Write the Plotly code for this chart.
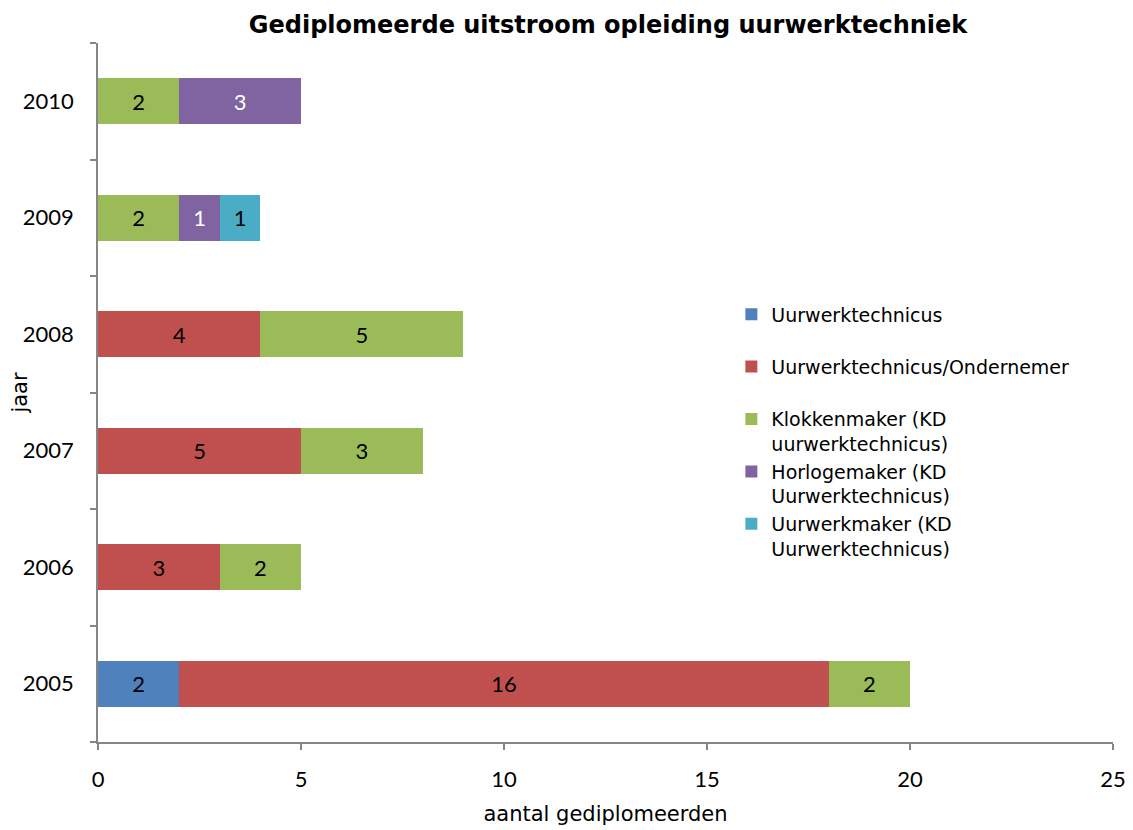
import plotly.graph_objects as go

years = ["2005", "2006", "2007", "2008", "2009", "2010"]
series_names = [
    "Uurwerktechnicus",
    "Uurwerktechnicus/Ondernemer",
    "Klokkenmaker (KD<br>uurwerktechnicus)",
    "Horlogemaker (KD<br>Uurwerktechnicus)",
    "Uurwerkmaker (KD<br>Uurwerktechnicus)",
]
uurwerktechnicus = [2, None, None, None, None, None]
ondernemer = [16, 3, 5, 4, None, None]
klokkenmaker = [2, 2, 3, 5, 2, 2]
horlogemaker = [None, None, None, None, 1, 3]
uurwerkmaker = [None, None, None, None, 1, None]
x_ticks = [0, 5, 10, 15, 20, 25]

values = [uurwerktechnicus, ondernemer, klokkenmaker, horlogemaker, uurwerkmaker]
colors = ["#4F81BD", "#C0504D", "#9BBB59", "#8064A2", "#4BACC6"]
text_colors = ["black", "black", "black", "white", "black"]
legend_names = [
    "Uurwerktechnicus<br> ",
    "Uurwerktechnicus/Ondernemer<br> ",
    series_names[2],
    series_names[3],
    series_names[4],
]

FONT = "Lato"
FONT2 = "DejaVu Sans"

fig = go.Figure()
for name, vals, col, tcol in zip(legend_names, values, colors, text_colors):
    fig.add_trace(go.Bar(
        y=years, x=vals, name=name, orientation="h",
        marker=dict(color=col, line=dict(width=0)),
        text=[("" if v is None else str(v)) for v in vals],
        textposition="inside", insidetextanchor="middle",
        textangle=0, constraintext="none",
        textfont=dict(family=FONT, size=22, color=tcol),
        hoverinfo="x+y+name",
    ))

fig.update_layout(
    barmode="stack",
    bargap=0.605,
    width=1133, height=830,
    margin=dict(l=90, r=28, t=35, b=96),
    paper_bgcolor="white", plot_bgcolor="white",
    font=dict(family=FONT, size=20, color="black"),
    title=dict(text="<b>Gediplomeerde uitstroom opleiding uurwerktechniek</b>",
               x=0.5296, xanchor="center", y=0.9795, yanchor="middle",
               font=dict(family=FONT2, size=24, color="black")),
    legend=dict(x=0.624, xanchor="left", y=0.639, yanchor="top",
                traceorder="normal", valign="top",
                font=dict(family=FONT2, size=19, color="black"),
                bgcolor="rgba(0,0,0,0)", itemwidth=30, tracegroupgap=0),
    showlegend=True,
)
fig.update_xaxes(
    range=[0, 25], tickvals=x_ticks, ticktext=[str(t) for t in x_ticks],
    automargin=False,
    showgrid=False, zeroline=False, showline=True, linecolor="#868686", linewidth=1.5,
    ticks="outside", ticklen=6, tickcolor="#868686", tickwidth=1.5,
    tickfont=dict(family=FONT, size=22), ticklabelstandoff=11,
    title=dict(text="aantal gediplomeerden", font=dict(family=FONT2, size=21), standoff=15),
)
fig.update_yaxes(
    type="category", categoryorder="array", categoryarray=years,
    automargin=False,
    showgrid=False, zeroline=False, showline=True, linecolor="#868686", linewidth=1.5,
    ticks="outside", ticklen=6, tickcolor="#868686", tickwidth=1.5, tickson="boundaries",
    tickfont=dict(family=FONT, size=22), ticklabelstandoff=18,
    title=dict(text="jaar", font=dict(family=FONT2, size=21), standoff=2),
)

fig.write_html("out.html")
